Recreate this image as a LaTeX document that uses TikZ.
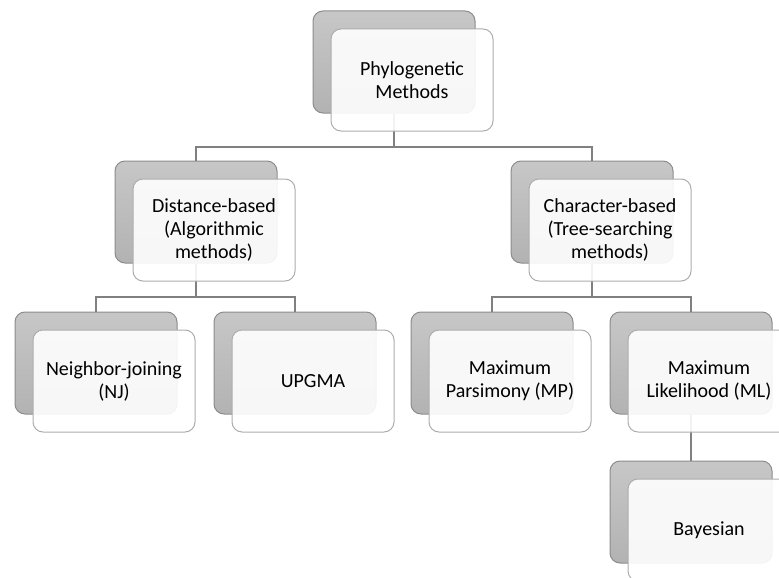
\documentclass[tikz,border=0pt]{standalone}
\usepackage{fontspec}
\setmainfont{Carlito}
\begin{document}
\begin{tikzpicture}[x=1pt,y=-1pt,
  back/.style={draw=black!45,line width=1pt,rounded corners=10pt,top color=black!22,bottom color=black!30,minimum width=162pt,minimum height=102pt,inner sep=0pt},
  front/.style={draw=black!32,line width=1pt,rounded corners=10pt,fill=white,fill opacity=0.9,text opacity=1,minimum width=162pt,minimum height=102pt,inner sep=0pt,align=center,font=\fontsize{20pt}{23pt}\selectfont},
  conn/.style={draw=black!50,line width=1.3pt}]
\useasboundingbox (0,0) rectangle (779,578);
\clip (0,0) rectangle (779,578);
% level 1
\node[back] (pb) at (394,62) {};
% level 2
\node[back] (db) at (196,212) {};
\node[back] (cb) at (592,212) {};
% level 3
\node[back] (nb) at (96,363) {};
\node[back] (ub) at (295,363) {};
\node[back] (mb) at (492,363) {};
\node[back] (lb) at (691,363) {};
\node[back] (bb) at (691,512) {};
% connectors
\coordinate (j1) at (394,147);
\draw[conn] (pb.south) -- (j1);
\draw[conn] (db.north) |- (j1) -| (cb.north);
\coordinate (j2) at (196,297);
\draw[conn] (db.south) -- (j2);
\draw[conn] (nb.north) |- (j2) -| (ub.north);
\coordinate (j3) at (592,297);
\draw[conn] (cb.south) -- (j3);
\draw[conn] (mb.north) |- (j3) -| (lb.north);
\draw[conn] (lb.south) -- (bb.north);
% fronts
\node[front] (p) at (412,80) {Phylogenetic\\Methods};
\node[front] (d) at (214,230) {Distance-based\\(Algorithmic\\methods)};
\node[front] (c) at (610,230) {Character-based\\(Tree-searching\\methods)};
\node[front] (n) at (114,381) {Neighbor-joining\\(NJ)};
\node[front] (u) at (313,381) {UPGMA};
\node[front] (m) at (510,381) {Maximum\\Parsimony (MP)};
\node[front] (l) at (709,381) {Maximum\\Likelihood (ML)};
\node[front] (b) at (709,530) {Bayesian};
\end{tikzpicture}
\end{document}
